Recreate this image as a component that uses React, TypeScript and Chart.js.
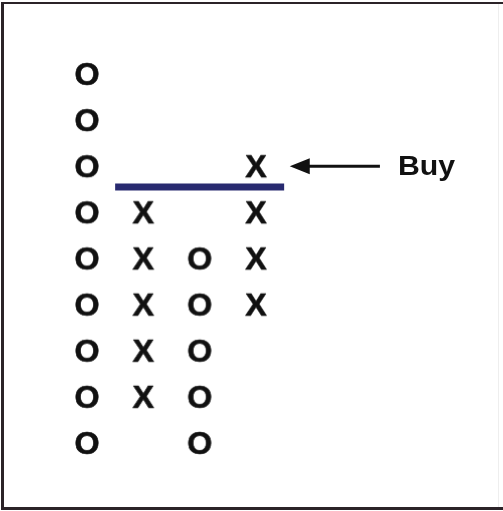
import React, { useEffect, useRef } from "react";
import { Chart, registerables } from "chart.js";

Chart.register(...registerables);

// Point & figure columns: [column index, list of box levels]
const columns = [1, 2, 3, 4];
const columnKinds = ["O", "X", "O", "X"];
const col1Boxes = [1, 2, 3, 4, 5, 6, 7, 8, 9];
const col2Boxes = [2, 3, 4, 5, 6];
const col3Boxes = [1, 2, 3, 4, 5];
const col4Boxes = [4, 5, 6, 7];
const columnBoxes = [col1Boxes, col2Boxes, col3Boxes, col4Boxes];

// Breakout (resistance) line
const breakoutLevel = 6.55;
const breakoutFrom = 1.5;
const breakoutTo = 4.5;

// Buy signal annotation
const buyLabel = "Buy";
const buyLevel = 7;
const arrowTipX = 4.6;
const arrowTailX = 6.2;
const buyTextX = 6.52;

function makeGlyph(ch: string): HTMLCanvasElement {
  const c = document.createElement("canvas");
  c.width = 40;
  c.height = 40;
  const g = c.getContext("2d")!;
  g.fillStyle = "#111111";
  g.strokeStyle = "#111111";
  g.lineWidth = 0.6;
  g.lineJoin = "round";
  g.font = "bold 31px 'Liberation Sans', Arial, sans-serif";
  g.textAlign = "center";
  g.textBaseline = "alphabetic";
  g.translate(20, 31);
  g.scale(1.04, 1);
  g.fillText(ch, 0, 0);
  g.strokeText(ch, 0, 0);
  return c;
}

const decorPlugin = {
  id: "decor",
  afterDatasetsDraw(chart: any) {
    const ctx = chart.ctx as CanvasRenderingContext2D;
    const xs = chart.scales.x;
    const ys = chart.scales.y;
    ctx.save();
    // arrow
    const yArrow = ys.getPixelForValue(buyLevel);
    const tip = xs.getPixelForValue(arrowTipX);
    const tail = xs.getPixelForValue(arrowTailX);
    ctx.strokeStyle = "#111111";
    ctx.lineWidth = 3;
    ctx.beginPath();
    ctx.moveTo(tip + 15, yArrow);
    ctx.lineTo(tail, yArrow);
    ctx.stroke();
    ctx.fillStyle = "#111111";
    ctx.beginPath();
    ctx.moveTo(tip, yArrow);
    ctx.lineTo(tip + 20, yArrow - 8);
    ctx.lineTo(tip + 20, yArrow + 8);
    ctx.closePath();
    ctx.fill();
    // Buy text
    ctx.font = "bold 27px 'Liberation Sans', Arial, sans-serif";
    ctx.textAlign = "left";
    ctx.textBaseline = "middle";
    ctx.save();
    ctx.translate(xs.getPixelForValue(buyTextX), yArrow + 1);
    ctx.scale(1.12, 1);
    ctx.fillText(buyLabel, 0, 0);
    ctx.restore();
    // frame
    ctx.fillStyle = "#2b2328";
    ctx.fillRect(1, 2, 3, 507);
    ctx.fillRect(1, 2, 502, 2);
    ctx.fillRect(1, 507, 502, 3);
    ctx.fillStyle = "#eeeeee";
    ctx.fillRect(498, 4, 1, 503);
    ctx.restore();
  },
};

export default function App() {
  const ref = useRef<HTMLCanvasElement | null>(null);
  useEffect(() => {
    if (!ref.current) return;
    const glyphs: Record<string, HTMLCanvasElement> = {
      X: makeGlyph("X"),
      O: makeGlyph("O"),
    };
    const datasets: any[] = columns.map((col, i) => ({
      type: "scatter",
      label: columnKinds[i] + col,
      data: columnBoxes[i].map((b) => ({ x: col, y: b })),
      pointStyle: glyphs[columnKinds[i]],
      pointRadius: 20,
      clip: false,
    }));
    datasets.push({
      type: "line",
      label: "breakout",
      data: [
        { x: breakoutFrom, y: breakoutLevel },
        { x: breakoutTo, y: breakoutLevel },
      ],
      borderColor: "#282a70",
      borderWidth: 7,
      pointRadius: 0,
      borderCapStyle: "butt",
      clip: false,
    });
    const chart = new Chart(ref.current, {
      type: "scatter",
      data: { datasets },
      options: {
        animation: false,
        responsive: false,
        layout: { padding: 0, autoPadding: false },
        plugins: {
          legend: { display: false },
          tooltip: { enabled: false },
        },
        scales: {
          x: { type: "linear", display: false, min: -0.544, max: 8.385 },
          y: { type: "linear", display: false, min: -0.475, max: 10.604 },
        },
      },
      plugins: [decorPlugin],
    } as any);
    return () => chart.destroy();
  }, []);
  return (
    <div style={{ position: "fixed", left: 0, top: 0, width: 503, height: 511, background: "#ffffff" }}>
      <canvas ref={ref} width={503} height={511} style={{ display: "block" }} />
    </div>
  );
}
